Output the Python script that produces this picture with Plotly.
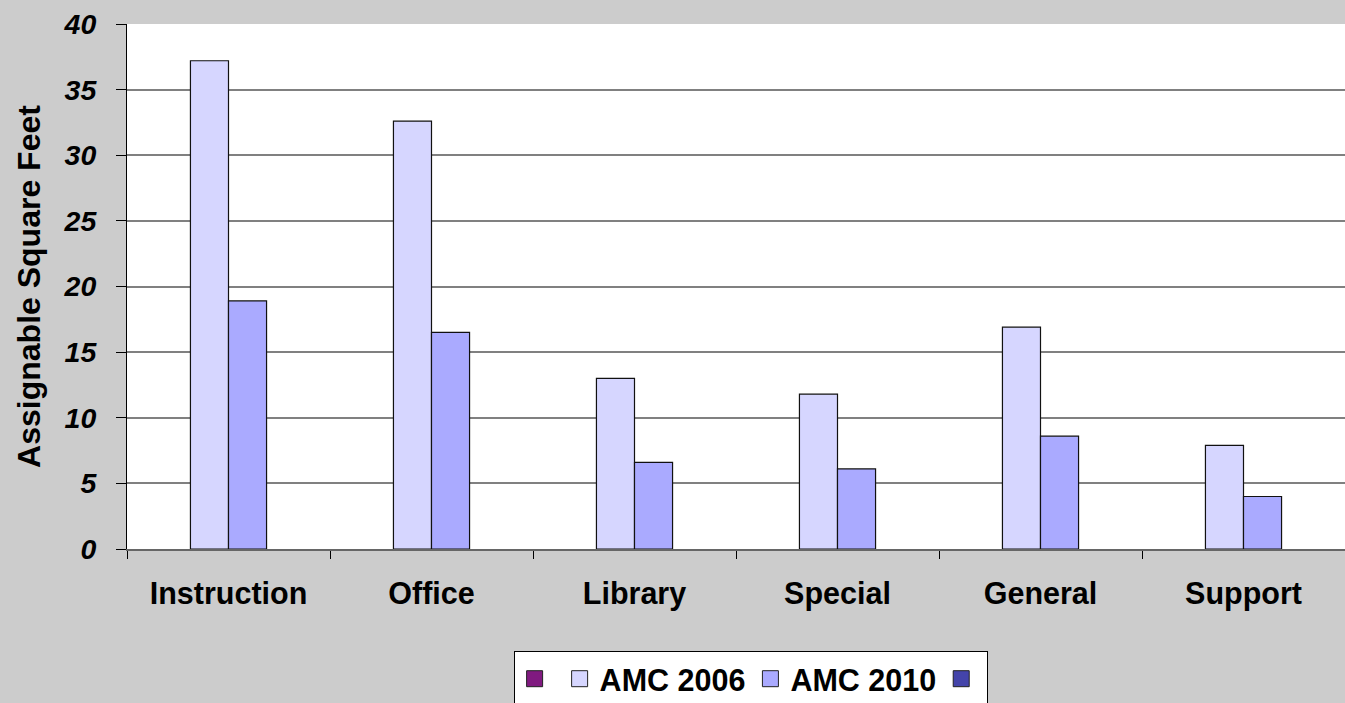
import plotly.graph_objects as go

categories = ["Instruction", "Office", "Library", "Special", "General", "Support"]
series_names = ["", "AMC 2006", "AMC 2010", ""]
amc_blank_a = [None, None, None, None, None, None]
amc_2006 = [37.2, 32.6, 13.0, 11.8, 16.9, 7.9]
amc_2010 = [18.9, 16.5, 6.6, 6.1, 8.6, 4.0]
amc_blank_b = [None, None, None, None, None, None]
y_ticks = [0, 5, 10, 15, 20, 25, 30, 35, 40]

series_values = [amc_blank_a, amc_2006, amc_2010, amc_blank_b]
colors = ["#801A80", "#D6D6FF", "#AAAAFF", "#4444AA"]
offsets = [-0.375, -0.1875, 0.0, 0.1875]
BW = 0.1875

FONT = "Arial, 'Liberation Sans', sans-serif"

fig = go.Figure()
for name, vals, col, off in zip(series_names, series_values, colors, offsets):
    fig.add_trace(go.Bar(
        x=categories, y=vals, name=name,
        width=BW, offset=off,
        marker=dict(color=col, line=dict(color="#111111", width=1.2)),
        showlegend=False,
    ))
    # legend entry (larger square symbol)
    fig.add_trace(go.Scatter(
        x=[None], y=[None], name=name, mode="markers",
        marker=dict(symbol="square", size=16, color=col,
                    line=dict(color="#222222", width=1)),
        showlegend=True, hoverinfo="skip",
    ))

fig.update_layout(
    width=1345, height=703,
    paper_bgcolor="#CCCCCC",
    plot_bgcolor="#FFFFFF",
    margin=dict(l=127, r=0, t=24, b=154, autoexpand=False),
    barmode="overlay",
    font=dict(family=FONT, color="#000000"),
    showlegend=True,
    legend=dict(
        orientation="h",
        x=0.512, xanchor="center",
        y=-0.195, yanchor="top",
        bgcolor="#FFFFFF",
        bordercolor="#000000", borderwidth=1,
        font=dict(family=FONT, size=30.5, weight="bold", color="#000000"),
        itemsizing="trace",
    ),
)

fig.update_xaxes(
    type="category",
    range=[-0.5, 5.5],
    showgrid=False,
    showline=True, linecolor="#666666", linewidth=2,
    ticks="outside", tickson="boundaries", ticklen=8,
    tickcolor="#000000", tickwidth=1,
    ticklabelstandoff=16,
    tickfont=dict(family=FONT, size=30.5, weight="bold", color="#000000"),
)

fig.update_yaxes(
    range=[0, 40],
    tickvals=y_ticks,
    showgrid=True, gridcolor="#808080", gridwidth=2,
    zeroline=False,
    showline=True, linecolor="#000000", linewidth=1,
    ticks="outside", ticklen=10, tickcolor="#000000", tickwidth=1,
    ticklabelstandoff=14,
    tickfont=dict(family=FONT, size=28.5, weight="bold", style="italic", color="#000000"),
    title=dict(text="Assignable Square Feet", standoff=13,
               font=dict(family=FONT, size=32, weight="bold", color="#000000")),
)

fig.write_html(
    "out.html",
    config={"displayModeBar": False},
    post_script="document.body.style.margin='0';document.body.style.padding='0';"
                "document.body.style.overflow='hidden';",
)
